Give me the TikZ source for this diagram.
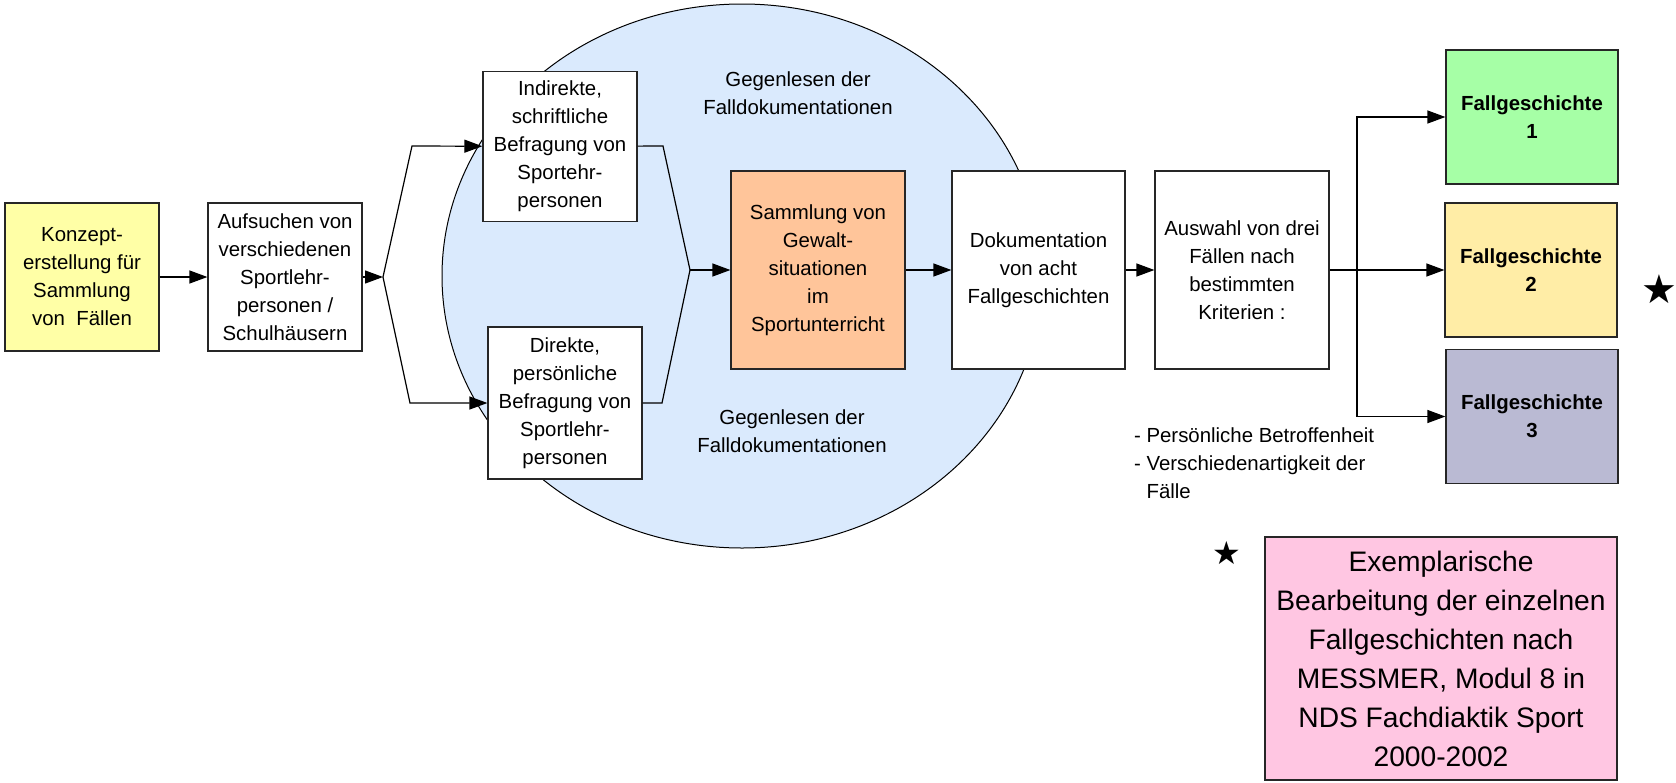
\documentclass[tikz,border=0pt]{standalone}
\usepackage{fontspec}
\setmainfont{Liberation Sans}
\newfontfamily\starfont{DejaVu Sans}
\usepackage{tikz}
\usetikzlibrary{arrows.meta,calc}
\definecolor{konzeptgelb}{HTML}{FFFFA6}
\definecolor{kreisblau}{HTML}{DAEAFD}
\definecolor{sammlungorange}{HTML}{FFC59A}
\definecolor{fallgruen}{HTML}{A6FFA6}
\definecolor{fallgelb}{HTML}{FFEDA6}
\definecolor{fallgrau}{HTML}{BABAD3}
\definecolor{exemplrosa}{HTML}{FFC6E2}
\tikzstyle{box}=[draw=black!85,line width=0.6pt,fill=white,align=center,inner sep=0pt,font=\fontsize{10.2}{14}\selectfont,minimum width=77pt,minimum height=74pt]
\tikzstyle{bigbox}=[box,minimum width=87pt,minimum height=99pt]
\tikzstyle{fallbox}=[box,font=\fontsize{10.2}{14}\selectfont\bfseries,minimum width=86pt,minimum height=67pt]
\tikzstyle{gegen}=[align=center,font=\fontsize{10.2}{14}\selectfont]
\tikzstyle{edge}=[draw,line width=0.6pt,-{Triangle[length=9pt,width=6.5pt]}]
\tikzstyle{line}=[draw,line width=0.6pt]
\tikzstyle{stern}=[inner sep=0pt,font=\starfont\fontsize{20}{20}\selectfont]

\begin{document}
\begin{tikzpicture}[x=0.5pt,y=-0.5pt]
    \useasboundingbox (0,0) rectangle (1676,782);

    % Gegenlesen circle
    \draw[fill=kreisblau,line width=0.5pt] (742,276) ellipse [x radius=150pt, y radius=136pt];
    \node[gegen] (gegenoben) at (798,93) {Gegenlesen der\\Falldokumentationen};
    \node[gegen] (gegenunten) at (792,431) {Gegenlesen der\\Falldokumentationen};

    \node[box,fill=konzeptgelb] (konzept) at (82,277) {Konzept-\\erstellung für\\Sammlung\\von~ Fällen};
    \node[box] (aufsuchen) at (285,277) {Aufsuchen von\\verschiedenen\\Sportlehr-\\personen /\\Schulhäusern};
    \node[box,minimum height=75pt] (indirekt) at (560,146.5) {Indirekte,\\schriftliche\\Befragung von\\Sportehr-\\personen};
    \node[box,minimum height=76pt] (direkt) at (565,403) {Direkte,\\persönliche\\Befragung von\\Sportlehr-\\personen};
    \node[bigbox,fill=sammlungorange] (sammlung) at (818,270) {Sammlung von\\Gewalt-\\situationen\\im\\Sportunterricht};
    \node[bigbox,minimum width=86.5pt] (doku) at (1038.5,270) {Dokumentation\\von acht\\Fallgeschichten};
    \node[bigbox] (auswahl) at (1242,270) {Auswahl von drei\\Fällen nach\\bestimmten\\Kriterien :};

    \foreach \pos/ \name / \num / \farbe in {{(1532,117)/fall1/1/fallgruen},{(1531,270)/fall2/2/fallgelb},{(1532,416.5)/fall3/3/fallgrau}}
        \node[fallbox,fill=\farbe] (\name) at \pos {Fallgeschichte\\\num};

    \node[gegen,align=left,anchor=west] (kriterien) at (1127,463) {- Persönliche Betroffenheit\\- Verschiedenartigkeit der\\\hphantom{- }Fälle};

    \node[box,fill=exemplrosa,minimum width=176pt,minimum height=121.5pt,font=\fontsize{14.1}{19.5}\selectfont] (exempl) at (1441,658.5) {Exemplarische\\Bearbeitung der einzelnen\\Fallgeschichten nach\\MESSMER, Modul 8 in\\NDS Fachdiaktik Sport\\2000-2002};

    \node[stern] (stern1) at (1659,289) {★};
    \node[stern,font=\starfont\fontsize{16}{16}\selectfont] (stern2) at (1227,553) {★};

    % fork and merge points
    \coordinate (split) at (383,277);
    \coordinate (splitoben) at (412,146);
    \coordinate (splitunten) at (410,403);
    \coordinate (mergeoben) at (663,146);
    \coordinate (mergeunten) at (662,403);
    \coordinate (merge) at (690,270);
    \coordinate (verteiler) at (1357,270);

    \draw[edge] (aufsuchen) -- (split);
    \draw[edge] (split) -- (splitoben) -- (indirekt);
    \draw[edge] (split) -- (splitunten) -- (direkt);
    \draw[line] (indirekt) -- (mergeoben) -- (merge);
    \draw[line] (direkt) -- (mergeunten) -- (merge);
    \draw[edge] (merge) -- (sammlung);

    % Connect boxes in a row
    \foreach \source/ \dest in {konzept/aufsuchen,sammlung/doku,doku/auswahl,auswahl/fall2}
        \draw[edge] (\source) -- (\dest);
    \draw[edge] (verteiler) |- (fall1);
    \draw[edge] (verteiler) |- (fall3);
\end{tikzpicture}
\end{document}
